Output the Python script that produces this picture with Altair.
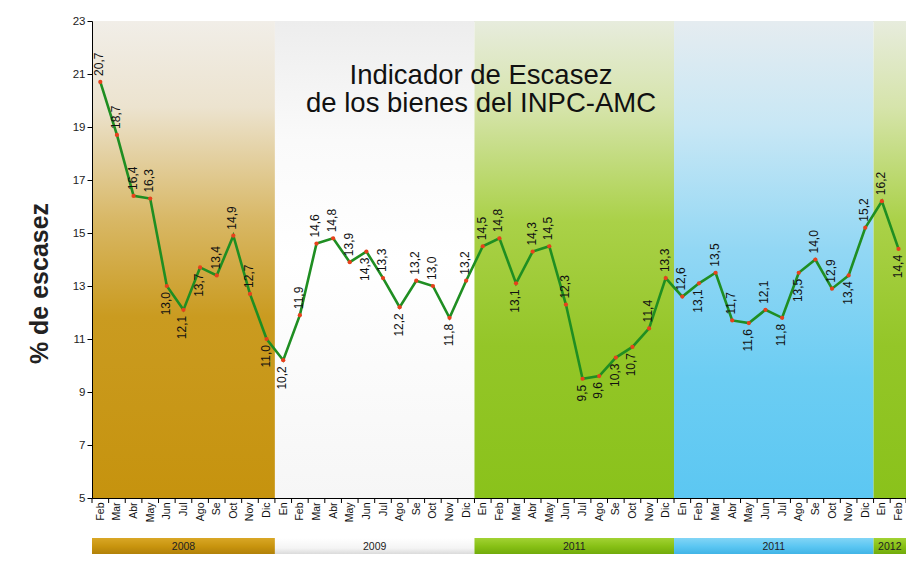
import json
import altair as alt
import pandas as pd

# ---------------- data ----------------
months = ["Feb", "Mar", "Abr", "May", "Jun", "Jul", "Ago", "Se", "Oct", "Nov", "Dic",
          "En", "Feb", "Mar", "Abr", "May", "Jun", "Jul", "Ago", "Se", "Oct", "Nov", "Dic",
          "En", "Feb", "Mar", "Abr", "May", "Jun", "Jul", "Ago", "Se", "Oct", "Nov", "Dic",
          "En", "Feb", "Mar", "Abr", "May", "Jun", "Jul", "Ago", "Se", "Oct", "Nov", "Dic",
          "En", "Feb"]
values = [20.7, 18.7, 16.4, 16.3, 13.0, 12.1, 13.7, 13.4, 14.9, 12.7, 11.0,
          10.2, 11.9, 14.6, 14.8, 13.9, 14.3, 13.3, 12.2, 13.2, 13.0, 11.8, 13.2,
          14.5, 14.8, 13.1, 14.3, 14.5, 12.3, 9.5, 9.6, 10.3, 10.7, 11.4, 13.3,
          12.6, 13.1, 13.5, 11.7, 11.6, 12.1, 11.8, 13.5, 14.0, 12.9, 13.4, 15.2,
          16.2, 14.4]
# side of each value label: "A" above the point, "B" below it
label_side = ["A", "A", "A", "A", "B", "B", "B", "A", "A", "A", "B",
              "B", "A", "A", "A", "A", "B", "A", "B", "A", "A", "B", "A",
              "A", "A", "B", "A", "A", "A", "B", "B", "B", "B", "A", "A",
              "A", "B", "A", "A", "B", "A", "B", "B", "A", "A", "B", "A",
              "A", "B"]
year_labels = ["2008", "2009", "2011", "2011", "2012"]
year_counts = [11, 12, 12, 12, 2]
y_ticks = [5, 7, 9, 11, 13, 15, 17, 19, 21, 23]
title_lines = ["Indicador de Escasez", "de los bienes del INPC-AMC"]
y_title = "% de escasez"

# ---------------- layout constants ----------------
W, H = 814, 477
XMIN, XMAX = -0.5, 48.45
FONT = "Liberation Sans"

df = pd.DataFrame({
    "idx": list(range(len(values))),
    "mes": months,
    "valor": values,
    "texto": [f"{v:.1f}".replace(".", ",") for v in values],
    "lado": label_side,
})

starts, s = [], 0
for c in year_counts:
    starts.append(s)
    s += c
bands = pd.DataFrame({
    "k": list(range(len(year_labels))),
    "anio": year_labels,
    "x0": [st - 0.5 for st in starts],
    "x1": [st + c - 0.5 for st, c in zip(starts, year_counts)],
})
bands["mid"] = (bands["x0"] + bands["x1"].clip(upper=XMAX)) / 2

bounds = pd.DataFrame({"b": [i - 0.5 for i in range(len(values) + 1)]})

xscale = alt.Scale(domain=[XMIN, XMAX], clamp=True, nice=False, zero=False)
yscale = alt.Scale(domain=[5, 23], nice=False, zero=False)

label_expr = json.dumps(months).replace('"', "'") + "[datum.value]"

x_axis = alt.Axis(values=list(range(len(values))), labelExpr=label_expr, labelAngle=270,
                  labelFont=FONT, labelFontSize=10.5, labelColor="#111111", labelPadding=4,
                  ticks=False, domainColor="#000000", domainWidth=1, grid=False,
                  title=None, labelOverlap=False, labelFlush=False, zindex=2)
y_axis = alt.Axis(values=y_ticks, labelFont=FONT, labelFontSize=11.5, labelColor="#222222",
                  tickColor="#000000", tickSize=5, domainColor="#000000", domainWidth=1,
                  grid=False, title=y_title, titleFont=FONT, titleFontSize=25,
                  titleFontWeight="bold", titleColor="#222222", titlePadding=20,
                  titleY=262, labelPadding=2, zindex=2)


def X(field):
    return alt.X(field, scale=xscale, axis=x_axis)


def Y(field):
    return alt.Y(field, scale=yscale, axis=y_axis)


def grad(stops):
    return {"gradient": "linear", "x1": 0, "y1": 0, "x2": 0, "y2": 1,
            "stops": [{"offset": o, "color": c} for o, c in stops]}


bg_grads = {
    "gold": grad([(0, "#F1EEE8"), (0.18, "#ECE3CF"), (0.42, "#D8B764"), (0.62, "#CA9B20"), (1, "#C6930E")]),
    "white": grad([(0, "#EDEDED"), (0.25, "#FAFAFA"), (0.5, "#FFFFFF"), (1, "#F6F6F6")]),
    "green": grad([(0, "#E7ECDD"), (0.18, "#D6E4AB"), (0.42, "#AAD148"), (0.68, "#94C628"), (1, "#8AC21B")]),
    "blue": grad([(0, "#E5ECF0"), (0.22, "#C8E7F5"), (0.48, "#92D7F4"), (0.75, "#6BCDF3"), (1, "#5CC7F2")]),
}
bar_grads = {
    "gold": grad([(0, "#D9A726"), (0.5, "#C8940E"), (1, "#AE7E08")]),
    "white": grad([(0, "#FFFFFF"), (0.6, "#F4F4F4"), (1, "#D6D6D6")]),
    "green": grad([(0, "#A2D233"), (0.5, "#87C015"), (1, "#6EA80A")]),
    "blue": grad([(0, "#82D5F6"), (0.5, "#5BC6F2"), (1, "#3EB2E5")]),
}
band_style = ["gold", "white", "green", "blue", "green"]

layers = []
for k, style in enumerate(band_style):
    base = alt.Chart(bands).transform_filter(alt.datum.k == k)
    layers.append(base.mark_rect(color=bg_grads[style], clip=True).encode(
        x=X("x0:Q"), x2="x1:Q", y=alt.value(0), y2=alt.value(H)))
    layers.append(base.mark_rect(color=bar_grads[style]).encode(
        x=X("x0:Q"), x2="x1:Q", y=alt.value(H + 40), y2=alt.value(H + 57)))

year_text = alt.Chart(bands).mark_text(font=FONT, fontSize=10.5, color="#222222",
                                       baseline="middle").encode(
    x=X("mid:Q"), y=alt.value(H + 49), text="anio:N")

ticks_x = alt.Chart(bounds).mark_rule(color="#000000", strokeWidth=1).encode(
    x=X("b:Q"), y=alt.value(H), y2=alt.value(H + 5))

line = alt.Chart(df).mark_line(color="#1F8E22", strokeWidth=2.6).encode(
    x=X("idx:Q"), y=Y("valor:Q"))

pts = alt.Chart(df).mark_circle(color="#E8401C", size=18, opacity=1).encode(
    x=X("idx:Q"), y=Y("valor:Q"))

lab_up = alt.Chart(df).transform_filter(alt.datum.lado == "A").mark_text(
    font=FONT, fontSize=12, color="#111111", angle=270, align="left",
    baseline="middle", dx=6, dy=-1).encode(
    x=X("idx:Q"), y=Y("valor:Q"), text="texto:N")

lab_dn = alt.Chart(df).transform_filter(alt.datum.lado == "B").mark_text(
    font=FONT, fontSize=12, color="#111111", angle=270, align="right",
    baseline="middle", dx=-6, dy=-1).encode(
    x=X("idx:Q"), y=Y("valor:Q"), text="texto:N")

title = alt.Chart(pd.DataFrame({"t": ["\n".join(title_lines)]})).mark_text(
    font=FONT, fontSize=27.5, color="#111111", lineBreak="\n", lineHeight=28,
    align="center", baseline="middle").encode(
    x=alt.value(389), y=alt.value(55), text="t:N")

chart = alt.layer(*layers, ticks_x, line, pts, lab_up, lab_dn, title, year_text).properties(
    width=W, height=H,
    padding={"left": 84, "top": 13, "right": 0, "bottom": 56},
    autosize=alt.AutoSizeParams(type="none"),
).configure_view(stroke=None).configure(background="#FFFFFF")

chart.save("out.html", embed_options={"renderer": "svg", "actions": False})
